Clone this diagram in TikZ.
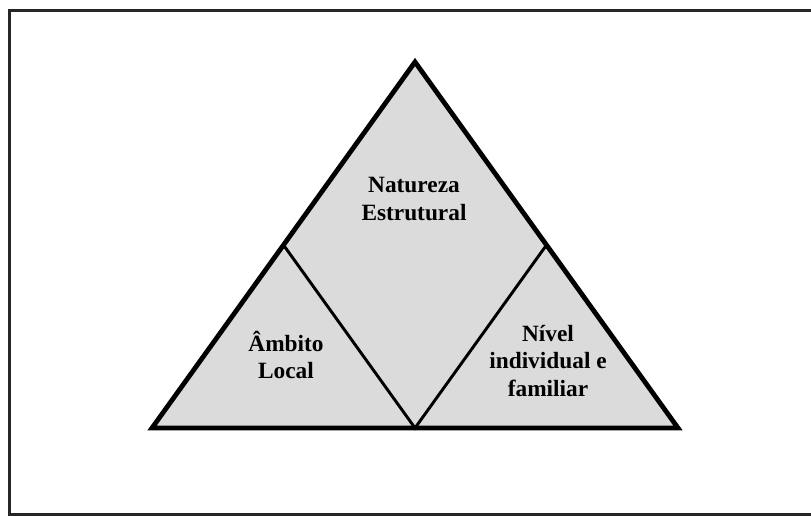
\documentclass[tikz,border=0pt]{standalone}
\usepackage{fontspec}
\setmainfont{Liberation Serif}
\usetikzlibrary{calc}

\begin{document}
\begin{tikzpicture}[x=0.75pt, y=-0.75pt,
    outer/.style={line width=3.6pt, line join=miter},
    inner/.style={line width=2.2pt},
    area/.style={fill=black!14},
    label/.style={align=center, font=\bfseries\fontsize{17.5}{20.5}\selectfont}]
      \useasboundingbox (0,0) rectangle (811,516);
      \draw [line width=2.4pt, black!85] (9.5,10.5) rectangle (830,514.5);
      \coordinate (apex) at (415,62);
      \coordinate (left) at (152,428);
      \coordinate (right) at (678,428);
      \coordinate (midL) at ($(apex)!0.5!(left)$);
      \coordinate (midR) at ($(apex)!0.5!(right)$);
      \coordinate (midB) at ($(left)!0.5!(right)$);
      \fill [area] (apex) -- (left) -- (right) -- cycle;
      \draw [inner] (midL) -- (midB) -- (midR);
      \draw [outer] (apex) -- (left) -- (right) -- cycle;
      \node (struct) [label] at (414,199) {Natureza\\Estrutural};
      \node (local) [label] at (286,355) {Âmbito\\Local};
      \node (family) [label] at (548,361) {Nível\\individual e\\familiar};
  \end{tikzpicture}
\end{document}
